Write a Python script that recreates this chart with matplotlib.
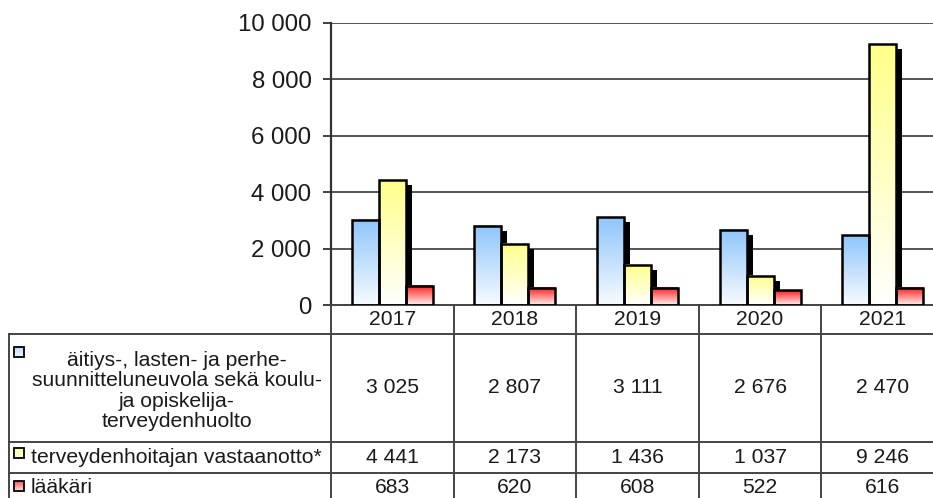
import matplotlib
matplotlib.use('Agg')
import matplotlib.pyplot as plt
import numpy as np
from matplotlib.transforms import blended_transform_factory, ScaledTranslation
from matplotlib.colors import to_rgb

# ---------------- data ----------------
years = ['2017', '2018', '2019', '2020', '2021']
series_names = ['äitiys-, lasten- ja perhe-\nsuunnitteluneuvola sekä koulu-\nja opiskelija-\nterveydenhuolto',
                'terveydenhoitajan vastaanotto*',
                'lääkäri']
neuvola = [3025, 2807, 3111, 2676, 2470]
vastaanotto = [4441, 2173, 1436, 1037, 9246]
laakari = [683, 620, 608, 522, 616]
yticks = [0, 2000, 4000, 6000, 8000, 10000]

series = [neuvola, vastaanotto, laakari]
top_colors = ['#8ec5fb', '#ffff88', '#ff1a1a']
bottom_colors = ['#f8fbff', '#ffffff', '#fff0f0']
key_top = ['#bcdcfb', '#ffffa8', '#ff5555']
key_bot = ['#eef6ff', '#ffffe8', '#ffe0e0']
has_shadow = [True, True, False]


def fmt(v):
    return f"{v:,}".replace(',', ' ')


plt.rcParams['font.family'] = ['Liberation Sans', 'DejaVu Sans']

W, H = 933, 498
fig = plt.figure(figsize=(W / 100, H / 100), dpi=100)

tab = fig.add_axes([0, 0, 1, 1])
tab.axis('off')

ax = fig.add_axes([331 / W, (H - 305) / H, (944 - 331) / W, (305 - 23) / H])
ax.set_axisbelow(True)

x = np.arange(len(years))
bw = 0.22
offsets = [-bw, 0, bw]


def gradient(c_top, c_bot, n=256):
    t = np.linspace(0, 1, n).reshape(-1, 1, 1)
    a = np.array(to_rgb(c_top)).reshape(1, 1, 3)
    b = np.array(to_rgb(c_bot)).reshape(1, 1, 3)
    return a * (1 - t) + b * t


shadow_tr = ax.transData + ScaledTranslation(6 / 100, -5 / 100, fig.dpi_scale_trans)

for k, vals in enumerate(series):
    xs = x + offsets[k]
    if has_shadow[k]:
        ax.bar(xs, vals, bw, color='black', edgecolor='none', transform=shadow_tr, zorder=1.5)
    img = gradient(top_colors[k], bottom_colors[k])
    for xi, v in zip(xs, vals):
        ax.imshow(img, extent=[xi - bw / 2, xi + bw / 2, 0, v], origin='upper',
                  aspect='auto', interpolation='bilinear', zorder=2)
    ax.bar(xs, vals, bw, facecolor='none', edgecolor='black', linewidth=1.8, zorder=3)

ax.set_xlim(-0.5, len(years) - 0.5)
ax.set_ylim(0, 10000)
ax.set_yticks(yticks)
ax.set_yticklabels([fmt(v) for v in yticks], fontsize=17.3, color='#1a1a1a')
ax.tick_params(axis='y', direction='out', length=6, width=1.3, color='#333333', pad=8)
ax.set_xticks([])
ax.yaxis.grid(True, color='#555555', linewidth=1.4)
for s in ['top', 'right']:
    ax.spines[s].set_visible(False)
ax.spines['left'].set_color('#333333')
ax.spines['left'].set_linewidth(1.6)
ax.spines['bottom'].set_color('#444444')
ax.spines['bottom'].set_linewidth(1.4)

# ---------------- data table ----------------
line_c = '#444444'
lw = 1.4
btr = blended_transform_factory(ax.transData, tab.transData)

y_zero, y_head, y_r1, y_r2, y_bot = 305, 334, 441.5, 473, 505
for xb in np.arange(-0.5, len(years) + 0.5, 1.0):
    tab.plot([xb, xb], [y_zero, y_bot], color=line_c, lw=lw, transform=btr, clip_on=False)
for yy in [y_head, y_r1, y_r2]:
    tab.plot([8.5, W + 20], [yy, yy], color=line_c, lw=lw, clip_on=False)
tab.plot([8.5, 8.5], [y_head, y_bot], color=line_c, lw=lw, clip_on=False)

tfs = 15.2
txt_c = '#1a1a1a'
row_centers = [(y_head + y_r1) / 2, (y_r1 + y_r2) / 2, (y_r2 + y_bot) / 2 - 2]
for i, yr in enumerate(years):
    tab.text(i, (y_zero + y_head) / 2, yr, transform=btr, ha='center', va='center',
             fontsize=tfs, color=txt_c)
    for k, vals in enumerate(series):
        tab.text(i, row_centers[k], fmt(vals[i]), transform=btr,
                 ha='center', va='center', fontsize=tfs, color=txt_c)

# row labels with legend keys
marker_y = [352, 453, 486]
for k in range(3):
    img = gradient(key_top[k], key_bot[k], 32)
    y0 = marker_y[k] - 5
    tab.imshow(img, extent=[14, 24, y0 + 10, y0], origin='upper', aspect='auto',
               interpolation='bilinear', zorder=2)
    tab.add_patch(plt.Rectangle((14, y0), 10, 10, facecolor='none', edgecolor='black',
                                lw=1.3, zorder=3))
tab.set_xlim(0, W)
tab.set_ylim(H, 0)

tab.text(177, row_centers[0] + 3, series_names[0], ha='center', va='center', fontsize=tfs,
         color=txt_c, linespacing=1.1)
tab.text(31, row_centers[1], series_names[1], ha='left', va='center', fontsize=tfs, color=txt_c)
tab.text(31, row_centers[2], series_names[2], ha='left', va='center', fontsize=tfs, color=txt_c)

fig.savefig('out.png', dpi=100)
